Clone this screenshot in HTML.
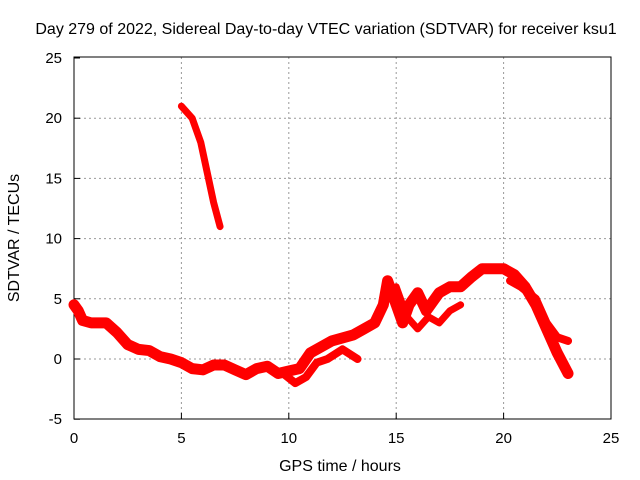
<!DOCTYPE html>
<html><head><meta charset="utf-8"><style>
body{margin:0;background:#fff}
svg{display:block;font-family:"Liberation Sans",sans-serif;font-size:15px}
</style></head><body>
<svg width="640" height="480">
<text x="326" y="34" text-anchor="middle" font-size="16">Day 279 of 2022, Sidereal Day-to-day VTEC variation (SDTVAR) for receiver ksu1</text>
<g id="grid"></g>
<g id="ticks"></g>
<rect x="74" y="57" width="537" height="362" fill="none" stroke="#000"/>
<g id="series"></g>
<text x="340" y="471" text-anchor="middle" font-size="16">GPS time / hours</text>
<text transform="translate(19,238) rotate(-90)" text-anchor="middle" font-size="16">SDTVAR / TECUs</text>
</svg>
<script>
const xTicks=[0,5,10,15,20,25];
const yTicks=[-5,0,5,10,15,20,25];
const mainHours=[0,0.2,0.4,0.8,1.5,2,2.5,3,3.5,4,4.5,5,5.5,6,6.5,7,7.5,8,8.5,9,9.5,10,10.5,11,11.5,12,13,13.5,14,14.4,14.6,15,15.3,15.6,16,16.4,17,17.5,18,18.5,19,20,20.5,21,21.5,22,22.5,23];
const mainValues=[4.5,4,3.2,3,3,2.2,1.2,0.8,0.7,0.2,0,-0.3,-0.8,-0.9,-0.5,-0.5,-0.9,-1.3,-0.8,-0.6,-1.2,-1,-0.8,0.5,1,1.5,2,2.5,3,4.5,6.5,4.5,3,4.5,5.5,4,5.5,6,6,6.8,7.5,7.5,7,6,4.5,2.5,0.5,-1.2];
const upperHours=[20.3,20.8,21.5,22,22.5,23];
const upperValues=[6.5,6,5,3,1.8,1.5];
const lowerHours=[9.8,10.3,10.8,11.3,11.8,12.5,13.2];
const lowerValues=[-1.3,-2,-1.5,-0.3,0,0.8,0];
const lateHours=[15,15.5,16,16.5,17,17.5,18];
const lateValues=[6,3.5,2.5,3.5,3,4,4.5];
const earlyHours=[5,5.5,5.9,6.2,6.5,6.8];
const earlyValues=[21,20,18,15.5,13,11];
const X=h=>74+h*537/25, Y=v=>359-v*60.2/5;
const NS="http://www.w3.org/2000/svg";
const grid=document.getElementById('grid'),ticks=document.getElementById('ticks'),ser=document.getElementById('series');
function mk(tag,at,p){const e=document.createElementNS(NS,tag);for(const k in at)e.setAttribute(k,at[k]);p.appendChild(e);return e;}
xTicks.forEach(t=>{
 if(t>0&&t<25){const l=mk('line',{x1:X(t),x2:X(t),y1:57,y2:419,stroke:'#999','stroke-dasharray':'2,3'},grid);
 
 }
 const tk=mk('line',{x1:X(t),x2:X(t),y1:419,y2:413,stroke:'#000'},ticks);
 
 
 const tx=mk('text',{x:X(t),y:443,'text-anchor':'middle'},ticks);tx.textContent=t;
 
 
});
yTicks.forEach(t=>{
 if(t>-5&&t<25){const l=mk('line',{x1:74,x2:611,y1:Y(t),y2:Y(t),stroke:'#999','stroke-dasharray':'2,3'},grid);
 
 }
 const tk=mk('line',{x1:74,x2:80,y1:Y(t),y2:Y(t),stroke:'#000'},ticks);
 
 
 const tx=mk('text',{x:62,y:Y(t)+5,'text-anchor':'end'},ticks);tx.textContent=t;
 
 
});
function draw(hs,vs,name,w){
 const pts=hs.map((h,i)=>X(h)+','+Y(vs[i])).join(' ');
 const p=mk('polyline',{points:pts,fill:'none',stroke:'#f00','stroke-width':w,'stroke-linejoin':'round','stroke-linecap':'round'},ser);
 
 
}
draw(mainHours,mainValues,'main-trace',11);
draw(upperHours,upperValues,'upper-branch',8);
draw(lowerHours,lowerValues,'lower-branch',8);
draw(lateHours,lateValues,'late-branch',7);
draw(earlyHours,earlyValues,'steep-segment',7);
</script>
</body></html>
